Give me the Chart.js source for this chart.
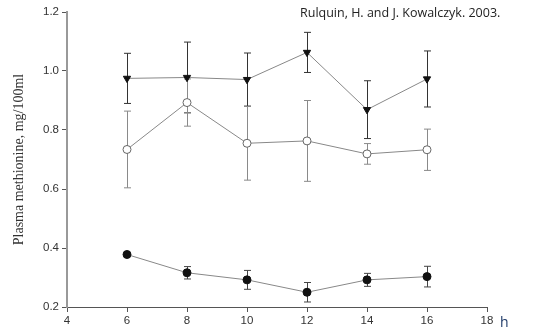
<!DOCTYPE html>
<html lang="en">
<head>
    <meta charset="UTF-8">
    <title>Plasma methionine</title>
    <script src="https://cdn.jsdelivr.net/npm/chart.js"></script>
    <style>
        body { margin: 0; background: #fff; }
        #wrap { position: relative; width: 546px; height: 333px; }
        #cite {
            position: absolute; left: 300px; top: 4px;
            font: 12.5px "Open Sans", sans-serif; color: #222; white-space: nowrap;
        }
        #unit {
            position: absolute; left: 500px; top: 312px;
            font: 14px "Open Sans", sans-serif; color: #1f3a68;
        }
    </style>
</head>
<body>
<div id="wrap">
    <canvas id="chart" width="546" height="333"></canvas>
    <div id="cite">Rulquin, H. and J. Kowalczyk. 2003.</div>
    <div id="unit">h</div>
</div>

<script>
    // hours after feeding
    const hours = [6, 8, 10, 12, 14, 16];

    // three series, mean and +/- error
    const triMean = [0.975, 0.978, 0.971, 1.063, 0.869, 0.973];
    const triErr  = [0.085, 0.120, 0.090, 0.068, 0.098, 0.095];

    const openMean = [0.734, 0.893, 0.755, 0.763, 0.719, 0.733];
    const openErr  = [0.130, 0.080, 0.125, 0.137, 0.035, 0.070];

    const fillMean = [0.378, 0.316, 0.292, 0.250, 0.292, 0.303];
    const fillErr  = [0.000, 0.021, 0.032, 0.033, 0.022, 0.035];

    const xTicks = [4, 6, 8, 10, 12, 14, 16, 18];
    const yTicks = [0.2, 0.4, 0.6, 0.8, 1.0, 1.2];

    function pts(means) {
        return hours.map((h, i) => ({ x: h, y: means[i] }));
    }

    // draws vertical error bars with caps, under the markers
    const errorBars = {
        id: 'errorBars',
        beforeDatasetsDraw(chart) {
            const ctx = chart.ctx;
            const xs = chart.scales.x, ys = chart.scales.y;
            chart.data.datasets.forEach(ds => {
                if (!ds.err) return;
                ctx.save();
                ctx.strokeStyle = ds.errColor;
                ctx.lineWidth = 1;
                hours.forEach((h, i) => {
                    const e = ds.err[i];
                    if (!e) return;
                    const m = ds.data[i].y;
                    const px = Math.round(xs.getPixelForValue(h)) + 0.5;
                    const top = ys.getPixelForValue(m + e);
                    const bot = ys.getPixelForValue(m - e);
                    ctx.beginPath();
                    ctx.moveTo(px, top); ctx.lineTo(px, bot);
                    ctx.moveTo(px - 3.5, top); ctx.lineTo(px + 3.5, top);
                    ctx.moveTo(px - 3.5, bot); ctx.lineTo(px + 3.5, bot);
                    ctx.stroke();
                });
                ctx.restore();
            });
        }
    };

    const tickFont = { family: 'Liberation Sans, Arial', size: 11.5 };

    new Chart(document.getElementById('chart'), {
        type: 'line',
        data: {
            datasets: [
                {
                    data: pts(triMean), err: triErr, errColor: '#333',
                    borderColor: '#888', borderWidth: 1,
                    pointStyle: 'triangle', rotation: 180, pointRadius: 4.2,
                    pointBackgroundColor: '#111', pointBorderColor: '#111', pointBorderWidth: 1
                },
                {
                    data: pts(openMean), err: openErr, errColor: '#8a8a8a',
                    borderColor: '#888', borderWidth: 1,
                    pointStyle: 'circle', pointRadius: 4,
                    pointBackgroundColor: '#fff', pointBorderColor: '#666', pointBorderWidth: 1
                },
                {
                    data: pts(fillMean), err: fillErr, errColor: '#444',
                    borderColor: '#888', borderWidth: 1,
                    pointStyle: 'circle', pointRadius: 4,
                    pointBackgroundColor: '#111', pointBorderColor: '#111', pointBorderWidth: 1
                }
            ]
        },
        options: {
            responsive: false,
            animation: false,
            layout: { padding: { top: 12, right: 59, left: 0, bottom: 0 } },
            plugins: { legend: { display: false }, tooltip: { enabled: false } },
            scales: {
                x: {
                    type: 'linear', min: 4, max: 18,
                    afterBuildTicks: s => { s.ticks = xTicks.map(v => ({ value: v })); },
                    afterFit: s => { s.height = 26; },
                    grid: { display: true, drawOnChartArea: false, drawTicks: true, tickLength: 5, color: '#555' },
                    border: { display: true, color: '#555', width: 1 },
                    ticks: { font: tickFont, color: '#333', padding: 2, maxRotation: 0 }
                },
                y: {
                    min: 0.2, max: 1.2,
                    afterBuildTicks: s => { s.ticks = yTicks.map(v => ({ value: v })); },
                    afterFit: s => { s.width = 67; },
                    grid: { display: true, drawOnChartArea: false, drawTicks: true, tickLength: 5, color: '#555' },
                    border: { display: true, color: '#999', width: 2 },
                    ticks: { font: tickFont, color: '#333', padding: 3, callback: v => v.toFixed(1) },
                    title: {
                        display: true,
                        text: 'Plasma methionine, mg/100ml',
                        font: { family: 'Liberation Serif, Times New Roman, serif', size: 14 },
                        color: '#333',
                        padding: { top: 11, bottom: 0 }
                    }
                }
            }
        },
        plugins: [errorBars]
    });
</script>
</body>
</html>
